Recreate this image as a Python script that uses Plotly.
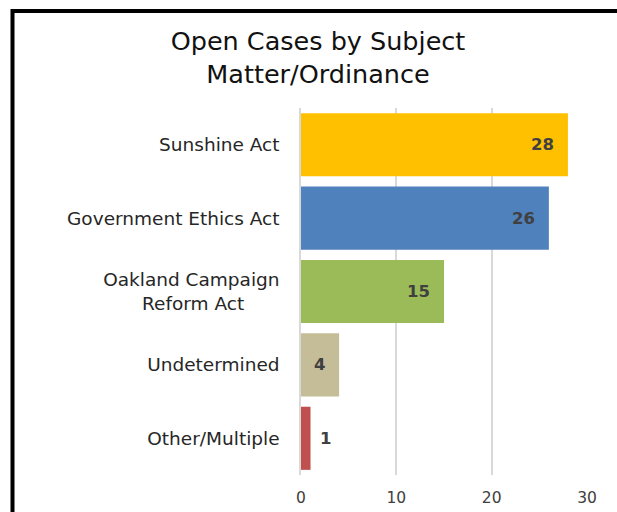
import plotly.graph_objects as go

categories = ["Sunshine Act", "Government Ethics Act", "Oakland Campaign<br>Reform Act", "Undetermined", "Other/Multiple"]
tick_labels = ["Sunshine Act", "Government Ethics Act", "Oakland Campaign<br>Reform Act" + "\u00a0" * 6,
               "Undetermined", "Other/Multiple"]
values = [28, 26, 15, 4, 1]
colors = ["#FFC000", "#4F81BD", "#9BBB59", "#C4BD97", "#C0504D"]
x_ticks = [0, 10, 20, 30]

FONT = "DejaVu Sans"

fig = go.Figure(go.Bar(
    y=categories, x=values, orientation="h",
    marker=dict(color=colors, line=dict(width=0)),
    width=0.86, hoverinfo="skip",
))

W, H = 617, 512
L, R, T, B = 301, 30, 108, 37
pw, ph = W - L - R, H - T - B

annotations = []
for c, v in zip(categories, values):
    inside = v >= 3
    annotations.append(dict(
        x=v, y=c, xref="x", yref="y", text=f"<b>{v}</b>", showarrow=False,
        xanchor="right" if inside else "left", xshift=-12 if inside else 7,
        font=dict(family=FONT, size=16.5, color="#404040"),
    ))
fig.update_layout(annotations=annotations)

def px_x(p):
    return (p - L) / pw

def px_y(p):
    return (H - B - p) / ph

fig.update_layout(
    width=W, height=H,
    margin=dict(l=L, r=R, t=T, b=B),
    paper_bgcolor="white", plot_bgcolor="white",
    title=dict(text="Open Cases by Subject<br>Matter/Ordinance", x=318 / W, xanchor="center",
               y=1 - 50 / H, yanchor="middle",
               font=dict(family=FONT, size=25.5, color="#111111")),
    xaxis=dict(range=[0, 30], tickvals=x_ticks, showgrid=True, gridcolor="#D9D9D9", gridwidth=1.5,
               zeroline=False, showline=False, ticks="outside", ticklen=8, tickcolor="white",
               automargin=False,
               tickfont=dict(family=FONT, size=15.5, color="#404040")),
    yaxis=dict(autorange="reversed", showline=True, linecolor="#D9D9D9", linewidth=1.5,
               tickvals=categories, ticktext=tick_labels,
               ticks="outside", ticklen=16, tickcolor="white", automargin=False,
               tickfont=dict(family=FONT, size=18.5, color="#262626")),
    showlegend=False,
    shapes=[
        dict(type="line", xref="paper", yref="paper", x0=px_x(12.5), x1=px_x(620), y0=px_y(11), y1=px_y(11),
             line=dict(color="black", width=4)),
        dict(type="line", xref="paper", yref="paper", x0=px_x(12.5), x1=px_x(12.5), y0=px_y(9), y1=px_y(515),
             line=dict(color="black", width=4)),
    ],
)

fig.write_html("out.html")
